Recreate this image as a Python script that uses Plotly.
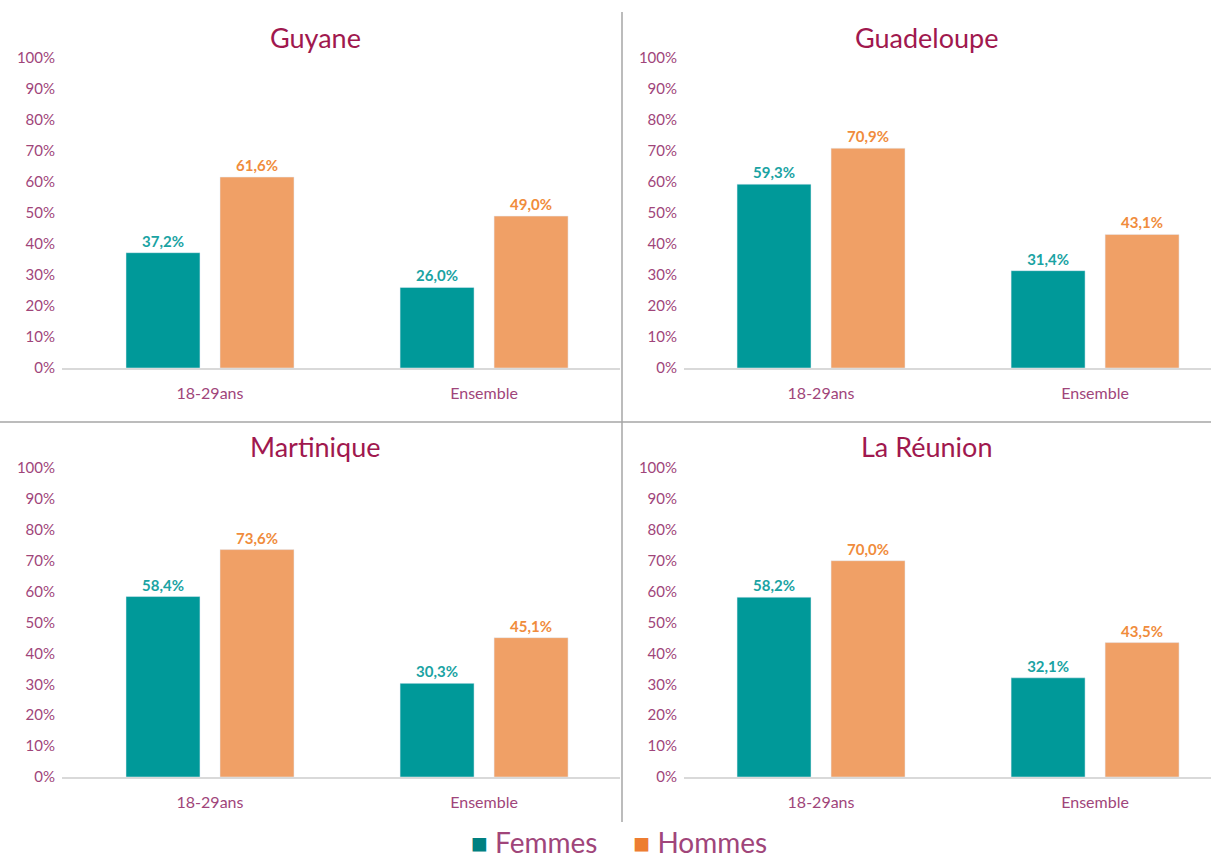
import plotly.graph_objects as go

categories = ["18-29ans", "Ensemble"]
regions = ["Guyane", "Guadeloupe", "Martinique", "La Réunion"]
femmes = {"Guyane": [37.2, 26.0], "Guadeloupe": [59.3, 31.4],
          "Martinique": [58.4, 30.3], "La Réunion": [58.2, 32.1]}
hommes = {"Guyane": [61.6, 49.0], "Guadeloupe": [70.9, 43.1],
          "Martinique": [73.6, 45.1], "La Réunion": [70.0, 43.5]}
y_ticks = list(range(0, 101, 10))
y_ticktext = [f"{v}%" for v in y_ticks]

W, H = 1211, 858
C_F = "#009999"
C_H = "#F0A066"
C_TXT_F = "#1AA3A3"
C_TXT_H = "#F08C3C"
C_AX = "#A0457A"
C_TITLE = "#A0184E"
FONT = "Lato, Carlito, sans-serif"

fig = go.Figure()

def fmt(v):
    return f"{v:.1f}".replace(".", ",") + "%"

panels = {
    "Guyane": dict(x=(62, 620), y=(368, 58), rng=(-0.54, 1.496), title=(315, 37)),
    "Guadeloupe": dict(x=(684, 1211), y=(368, 58), rng=(-0.5, 1.423), title=(926, 37)),
    "Martinique": dict(x=(62, 620), y=(777, 468), rng=(-0.54, 1.496), title=(315, 447)),
    "La Réunion": dict(x=(684, 1211), y=(777, 468), rng=(-0.5, 1.423), title=(926, 447)),
}

annotations = []
for i, reg in enumerate(regions):
    n = "" if i == 0 else str(i + 1)
    p = panels[reg]
    xa, ya = "x" + n, "y" + n
    fig.add_trace(go.Bar(x=categories, y=femmes[reg], name="Femmes", marker_color=C_F,
                         text=[fmt(v) for v in femmes[reg]], textposition="outside",
                         textfont=dict(color=C_TXT_F, size=15, family=FONT, weight="bold"),
                         cliponaxis=False, showlegend=False, xaxis=xa, yaxis=ya))
    fig.add_trace(go.Bar(x=categories, y=hommes[reg], name="Hommes", marker_color=C_H,
                         text=[fmt(v) for v in hommes[reg]], textposition="outside",
                         textfont=dict(color=C_TXT_H, size=15, family=FONT, weight="bold"),
                         cliponaxis=False, showlegend=False, xaxis=xa, yaxis=ya))
    key_x = "xaxis" + n
    key_y = "yaxis" + n
    fig.update_layout(**{
        key_x: dict(domain=[p["x"][0] / W, p["x"][1] / W], range=list(p["rng"]),
                    anchor=ya, showline=True, linecolor="#D9D9D9", linewidth=1.5,
                    showgrid=False, ticks="", zeroline=False, automargin=False,
                    tickfont=dict(color=C_AX, size=16, family=FONT), ticklabelstandoff=10),
        key_y: dict(domain=[1 - p["y"][0] / H, 1 - p["y"][1] / H], range=[0, 100],
                    anchor=xa, tickmode="array", tickvals=y_ticks, ticktext=y_ticktext,
                    showgrid=False, zeroline=False, showline=False, automargin=False,
                    tickfont=dict(color=C_AX, size=15, family=FONT), ticklabelstandoff=6),
    })
    annotations.append(dict(text=reg, x=p["title"][0] / W, y=1 - p["title"][1] / H,
                            xref="paper", yref="paper", showarrow=False,
                            xanchor="center", yanchor="middle",
                            font=dict(color=C_TITLE, size=27, family=FONT)))

annotations.append(dict(
    text="<span style='color:#008080'>■</span> Femmes     <span style='color:#ED7D31'>■</span> Hommes",
    x=619 / W, y=1 - 842 / H, xref="paper", yref="paper", showarrow=False,
    xanchor="center", yanchor="middle", font=dict(color=C_AX, size=28, family=FONT)))

shapes = [
    dict(type="line", xref="paper", yref="paper", x0=622 / W, x1=622 / W,
         y0=1 - 822 / H, y1=1 - 12 / H, line=dict(color="#A6A6A6", width=1.5)),
    dict(type="line", xref="paper", yref="paper", x0=0, x1=1,
         y0=1 - 422 / H, y1=1 - 422 / H, line=dict(color="#A6A6A6", width=1.5)),
]

fig.update_layout(width=W, height=H, margin=dict(l=0, r=0, t=0, b=0),
                  paper_bgcolor="white", plot_bgcolor="white",
                  barmode="group", bargap=0.314, bargroupgap=0.213,
                  annotations=annotations, shapes=shapes, showlegend=False,
                  font=dict(family=FONT))

fig.write_html("out.html", config={"displayModeBar": False},
               post_script="document.body.style.margin='0';document.body.style.overflow='hidden';")
